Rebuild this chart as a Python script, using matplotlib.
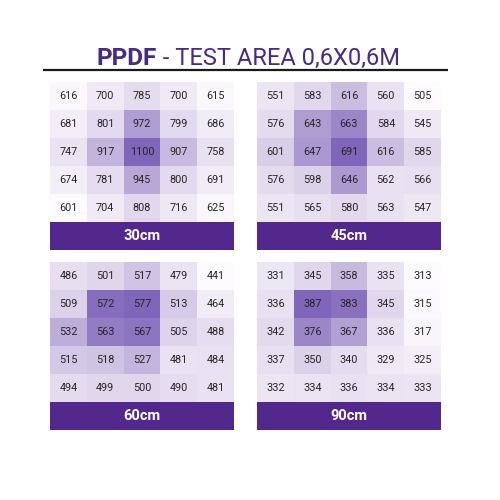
import numpy as np
import matplotlib.pyplot as plt
from matplotlib.colors import LinearSegmentedColormap, Normalize

# ---------------- data: PPDF readings per height ----------------
labels = ["30cm", "45cm", "60cm", "90cm"]

ppdf_30 = [[616, 700, 785, 700, 615],
           [681, 801, 972, 799, 686],
           [747, 917, 1100, 907, 758],
           [674, 781, 945, 800, 691],
           [601, 704, 808, 716, 625]]

ppdf_45 = [[551, 583, 616, 560, 505],
           [576, 643, 663, 584, 545],
           [601, 647, 691, 616, 585],
           [576, 598, 646, 562, 566],
           [551, 565, 580, 563, 547]]

ppdf_60 = [[486, 501, 517, 479, 441],
           [509, 572, 577, 513, 464],
           [532, 563, 567, 505, 488],
           [515, 518, 527, 481, 484],
           [494, 499, 500, 490, 481]]

ppdf_90 = [[331, 345, 358, 335, 313],
           [336, 387, 383, 345, 315],
           [342, 376, 367, 336, 317],
           [337, 350, 340, 329, 325],
           [332, 334, 336, 334, 333]]

grids = [ppdf_30, ppdf_45, ppdf_60, ppdf_90]

# ---------------- style ----------------
purple_dark = "#52288c"
title_col = "#4a2b84"
cmap = LinearSegmentedColormap.from_list("lav", ["#fdfbfe", "#dcd2ea", "#8066ba"])
plt.rcParams["font.family"] = ["Roboto", "DejaVu Sans"]

# panel boxes in pixel coords (left, top); cell size
panel_pos = [(50, 82), (257, 82), (50, 262), (257, 262)]
cw, ch = 36.8, 28.0

fig = plt.figure(figsize=(5, 5), dpi=100)
ax = fig.add_axes([0, 0, 1, 1])
ax.set_xlim(0, 500)
ax.set_ylim(500, 0)
ax.axis("off")

# title: bold "PPDF" followed by regular text
t1 = ax.text(96, 65, "PPDF", color=title_col, fontsize=17.5, fontweight="bold",
             ha="left", va="baseline")
fig.canvas.draw()
bb = t1.get_window_extent()
ax.annotate(" - TEST AREA 0,6X0,6M", xy=(bb.x1 + 1, 500 - 65), xycoords="figure pixels",
            color=title_col, fontsize=17, fontweight="normal", ha="left", va="baseline")
ax.plot([43, 448], [70, 70], color="#1a1a1a", lw=1.6, solid_capstyle="butt")

for (x0, y0), vals, lab in zip(panel_pos, grids, labels):
    arr = np.array(vals, dtype=float)
    norm = Normalize(vmin=arr.min(), vmax=arr.max())
    ax.imshow(arr, cmap=cmap, norm=norm, interpolation="nearest", aspect="auto",
              extent=(x0, x0 + 5 * cw, y0 + 5 * ch, y0))
    for r in range(5):
        for c in range(5):
            ax.text(x0 + (c + 0.5) * cw, y0 + (r + 0.5) * ch, str(vals[r][c]),
                    ha="center", va="center", fontsize=7.8, color="#262626")
    ax.add_patch(plt.Rectangle((x0, y0 + 5 * ch), 5 * cw, ch, color=purple_dark, lw=0))
    ax.text(x0 + 2.5 * cw, y0 + 5.5 * ch, lab, ha="center", va="center",
            fontsize=10.5, fontweight="bold", color="white")

ax.set_xlim(0, 500)
ax.set_ylim(500, 0)
fig.savefig("out.png", dpi=100)
